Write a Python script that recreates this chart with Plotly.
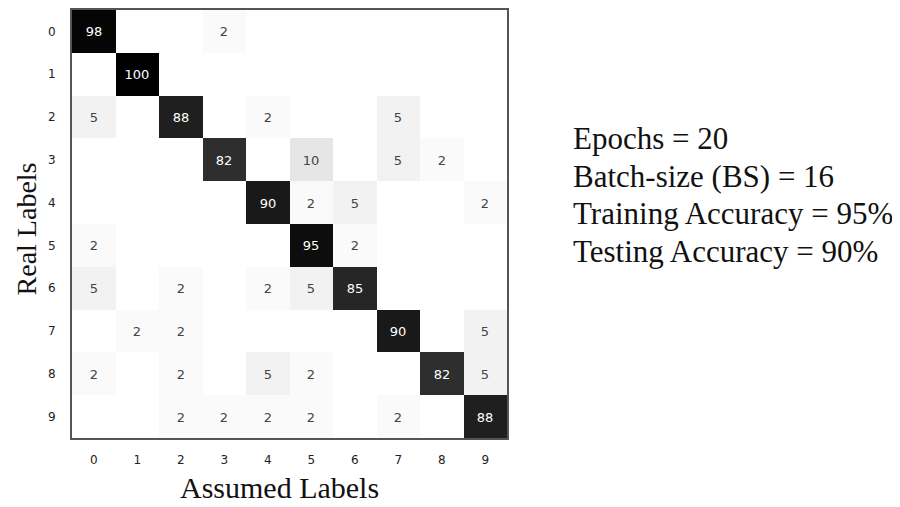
import plotly.graph_objects as go

# confusion matrix, rows = real label, cols = assumed label (percent)
labels = [str(i) for i in range(10)]
row_0 = [98, 0, 0, 2, 0, 0, 0, 0, 0, 0]
row_1 = [0, 100, 0, 0, 0, 0, 0, 0, 0, 0]
row_2 = [5, 0, 88, 0, 2, 0, 0, 5, 0, 0]
row_3 = [0, 0, 0, 82, 0, 10, 0, 5, 2, 0]
row_4 = [0, 0, 0, 0, 90, 2, 5, 0, 0, 2]
row_5 = [2, 0, 0, 0, 0, 95, 2, 0, 0, 0]
row_6 = [5, 0, 2, 0, 2, 5, 85, 0, 0, 0]
row_7 = [0, 2, 2, 0, 0, 0, 0, 90, 0, 5]
row_8 = [2, 0, 2, 0, 5, 2, 0, 0, 82, 5]
row_9 = [0, 0, 2, 2, 2, 2, 0, 2, 0, 88]
matrix = [row_0, row_1, row_2, row_3, row_4, row_5, row_6, row_7, row_8, row_9]

info_lines = [
    "Epochs = 20",
    "Batch-size (BS) = 16",
    "Training Accuracy = 95%",
    "Testing Accuracy = 90%",
]

cell_text = [[str(v) if v else "" for v in row] for row in matrix]

fig = go.Figure(go.Heatmap(
    z=matrix, x=labels, y=labels,
    text=cell_text, texttemplate="%{text}",
    textfont=dict(family="DejaVu Sans", size=13),
    colorscale=[[0, "#ffffff"], [1, "#000000"]],
    zmin=0, zmax=100, showscale=False,
))

serif = "Liberation Serif, Times New Roman, serif"
tick_font = dict(family="DejaVu Sans", size=12, color="#222")

fig.update_xaxes(
    type="category", showline=True, linecolor="#555", linewidth=2, mirror=True,
    ticks="", ticklabelstandoff=10, showgrid=False, zeroline=False,
    tickfont=tick_font,
)
fig.update_yaxes(
    type="category", autorange="reversed", showline=True, linecolor="#555",
    linewidth=2, mirror=True, ticks="", ticklabelstandoff=12, showgrid=False,
    zeroline=False, tickfont=tick_font,
)

annotations = [
    dict(text="Assumed Labels", xref="paper", yref="paper", x=0.478, y=-0.116,
         xanchor="center", yanchor="middle", showarrow=False,
         font=dict(family=serif, size=30, color="#111")),
    dict(text="Real Labels", xref="paper", yref="paper", x=-0.105, y=0.488,
         xanchor="center", yanchor="middle", textangle=-90, showarrow=False,
         font=dict(family=serif, size=28, color="#111")),
]
for i, line in enumerate(info_lines):
    annotations.append(dict(
        text=line, xref="paper", yref="paper", x=1.147, y=0.700 - i * 0.0883,
        xanchor="left", yanchor="middle", showarrow=False,
        font=dict(family=serif, size=31, color="#111"),
    ))

# page body adds an 8px margin, so the figure is a little smaller than the window
fig.update_layout(
    width=892, height=499,
    margin=dict(l=64, r=393, t=0, b=69),
    plot_bgcolor="white", paper_bgcolor="white",
    annotations=annotations,
)

fig.write_html("out.html")
